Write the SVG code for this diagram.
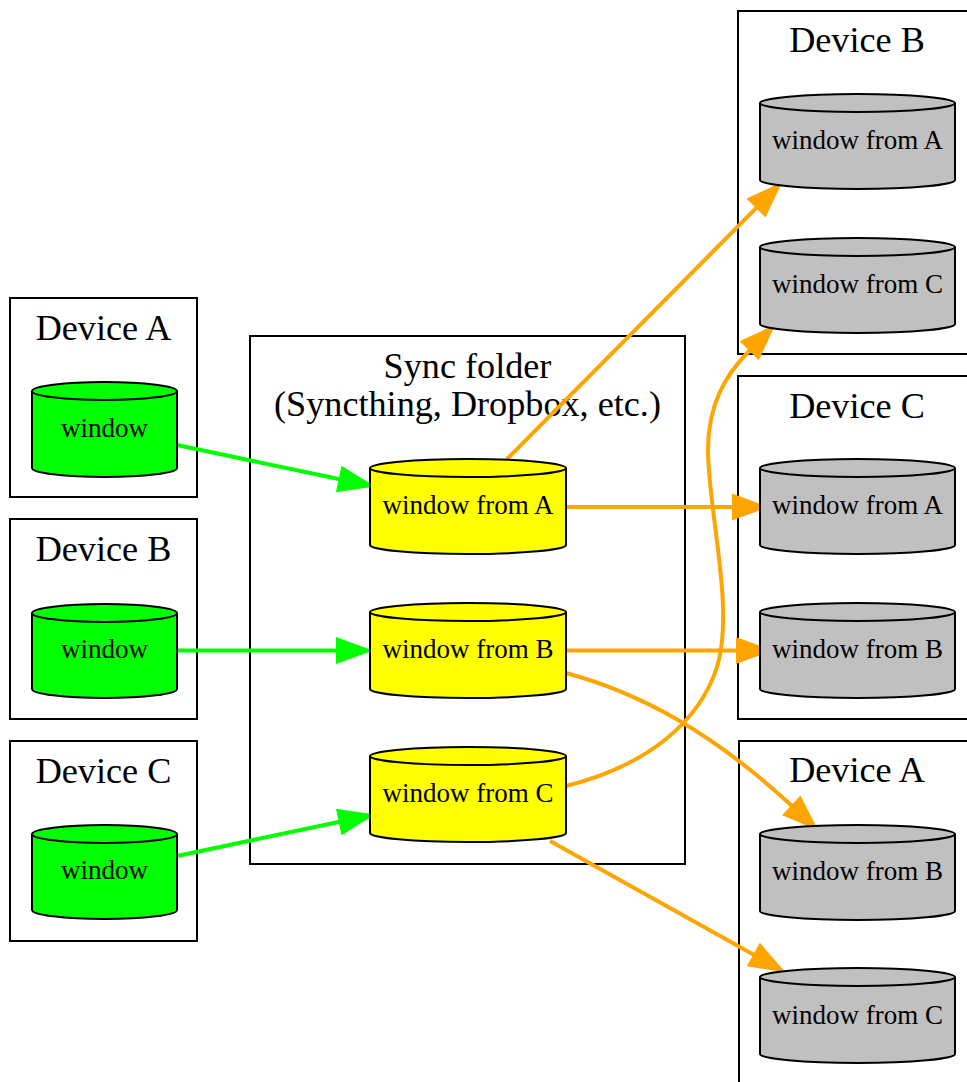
<svg xmlns="http://www.w3.org/2000/svg" width="967" height="1082" viewBox="0 0 967 1082">
<style>
.bg{fill:#ffffff}
.cluster{fill:none;stroke:#000;stroke-width:2}
.clabel{font-family:"Liberation Serif","Times New Roman",serif;font-size:36.2px;fill:#000;text-anchor:middle}
.nlabel{font-family:"Liberation Serif","Times New Roman",serif;font-size:27px;fill:#000;text-anchor:middle}
.cyl{stroke:#000;stroke-width:2}
.rim{fill:none;stroke:#000;stroke-width:2}
.green{fill:#00ff00}
.yellow{fill:#ffff00}
.gray{fill:#c0c0c0}
.eg{fill:none;stroke:#00ff00;stroke-width:4}
.eo{fill:none;stroke:#ffa500;stroke-width:4}
</style>
<defs>
<marker id="ag" markerUnits="userSpaceOnUse" markerWidth="36" markerHeight="26" refX="0" refY="12" orient="auto" overflow="visible"><path d="M0,0 L33,12 L0,24 Z" fill="#00ff00" stroke="#00ff00" stroke-width="2"/></marker>
<marker id="ao" markerUnits="userSpaceOnUse" markerWidth="36" markerHeight="26" refX="0" refY="12" orient="auto" overflow="visible"><path d="M0,0 L33,12 L0,24 Z" fill="#ffa500" stroke="#ffa500" stroke-width="2"/></marker>
</defs>
<rect class="bg" x="0" y="0" width="967" height="1082"/>

<g id="cluster_devA_src">
<rect class="cluster" x="10" y="298" width="187" height="199"/>
<text class="clabel" x="103.5" y="340">Device A</text>
</g>
<g id="cluster_devB_src">
<rect class="cluster" x="10" y="519" width="187" height="200"/>
<text class="clabel" x="103.5" y="561">Device B</text>
</g>
<g id="cluster_devC_src">
<rect class="cluster" x="10" y="741" width="187" height="200"/>
<text class="clabel" x="103.5" y="783">Device C</text>
</g>
<g id="cluster_sync">
<rect class="cluster" x="250" y="336" width="435" height="528"/>
<text class="clabel" x="467.5" y="378">Sync folder</text>
<text class="clabel" x="467.5" y="416">(Syncthing, Dropbox, etc.)</text>
</g>
<g id="cluster_devB_dst">
<rect class="cluster" x="738" y="11" width="240" height="343"/>
<text class="clabel" x="857" y="52">Device B</text>
</g>
<g id="cluster_devC_dst">
<rect class="cluster" x="738" y="376" width="240" height="343"/>
<text class="clabel" x="857" y="418">Device C</text>
</g>
<g id="cluster_devA_dst">
<rect class="cluster" x="739" y="741" width="240" height="360"/>
<text class="clabel" x="857" y="782">Device A</text>
</g>

<g id="edges">
<path class="eg" d="M177,445 L339.7,479.2" marker-end="url(#ag)"/>
<path class="eg" d="M177,650.5 L337,650.5" marker-end="url(#ag)"/>
<path class="eg" d="M177,856 L339.7,821.8" marker-end="url(#ag)"/>
<path class="eo" d="M507,459 L756.8,207.4" marker-end="url(#ao)"/>
<path class="eo" d="M566,507 L733,507" marker-end="url(#ao)"/>
<path class="eo" d="M566,650.5 L737,650.5" marker-end="url(#ao)"/>
<path class="eo" d="M566,673 C640,693 712,732 792,806" marker-end="url(#ao)"/>
<path class="eo" d="M566,786 C650,765 700,720 717,667 C735,610 708,510 708,450 C708,405 725,375 750,350" marker-end="url(#ao)"/>
<path class="eo" d="M550,841 L754.2,954.9" marker-end="url(#ao)"/>
</g>

<g id="srcA_window">
<path class="cyl green" d="M32,391 A72.5,9 0 0 1 177,391 L177,468 A72.5,9 0 0 1 32,468 Z"/>
<path class="rim" d="M32,391 A72.5,9 0 0 0 177,391"/>
<text class="nlabel" x="104.5" y="436.5">window</text>
</g>
<g id="srcB_window">
<path class="cyl green" d="M32,613 A72.5,9 0 0 1 177,613 L177,689 A72.5,9 0 0 1 32,689 Z"/>
<path class="rim" d="M32,613 A72.5,9 0 0 0 177,613"/>
<text class="nlabel" x="104.5" y="658">window</text>
</g>
<g id="srcC_window">
<path class="cyl green" d="M32,834 A72.5,9 0 0 1 177,834 L177,910 A72.5,9 0 0 1 32,910 Z"/>
<path class="rim" d="M32,834 A72.5,9 0 0 0 177,834"/>
<text class="nlabel" x="104.5" y="879">window</text>
</g>

<g id="sync_fromA">
<path class="cyl yellow" d="M370,468 A98,9 0 0 1 566,468 L566,545 A98,9 0 0 1 370,545 Z"/>
<path class="rim" d="M370,468 A98,9 0 0 0 566,468"/>
<text class="nlabel" x="468" y="514">window from A</text>
</g>
<g id="sync_fromB">
<path class="cyl yellow" d="M370,612 A98,9 0 0 1 566,612 L566,689 A98,9 0 0 1 370,689 Z"/>
<path class="rim" d="M370,612 A98,9 0 0 0 566,612"/>
<text class="nlabel" x="468" y="658">window from B</text>
</g>
<g id="sync_fromC">
<path class="cyl yellow" d="M370,756 A98,9 0 0 1 566,756 L566,833 A98,9 0 0 1 370,833 Z"/>
<path class="rim" d="M370,756 A98,9 0 0 0 566,756"/>
<text class="nlabel" x="468" y="802">window from C</text>
</g>

<g id="B_fromA">
<path class="cyl gray" d="M760,103 A97.5,9 0 0 1 955,103 L955,180 A97.5,9 0 0 1 760,180 Z"/>
<path class="rim" d="M760,103 A97.5,9 0 0 0 955,103"/>
<text class="nlabel" x="857.5" y="149">window from A</text>
</g>
<g id="B_fromC">
<path class="cyl gray" d="M760,247 A97.5,9 0 0 1 955,247 L955,324 A97.5,9 0 0 1 760,324 Z"/>
<path class="rim" d="M760,247 A97.5,9 0 0 0 955,247"/>
<text class="nlabel" x="857.5" y="293">window from C</text>
</g>
<g id="C_fromA">
<path class="cyl gray" d="M760,468 A97.5,9 0 0 1 955,468 L955,545 A97.5,9 0 0 1 760,545 Z"/>
<path class="rim" d="M760,468 A97.5,9 0 0 0 955,468"/>
<text class="nlabel" x="857.5" y="514">window from A</text>
</g>
<g id="C_fromB">
<path class="cyl gray" d="M760,612 A97.5,9 0 0 1 955,612 L955,689 A97.5,9 0 0 1 760,689 Z"/>
<path class="rim" d="M760,612 A97.5,9 0 0 0 955,612"/>
<text class="nlabel" x="857.5" y="658">window from B</text>
</g>
<g id="A_fromB">
<path class="cyl gray" d="M760,834 A97.5,9 0 0 1 955,834 L955,911 A97.5,9 0 0 1 760,911 Z"/>
<path class="rim" d="M760,834 A97.5,9 0 0 0 955,834"/>
<text class="nlabel" x="857.5" y="879.5">window from B</text>
</g>
<g id="A_fromC">
<path class="cyl gray" d="M760,977 A97.5,9 0 0 1 955,977 L955,1054 A97.5,9 0 0 1 760,1054 Z"/>
<path class="rim" d="M760,977 A97.5,9 0 0 0 955,977"/>
<text class="nlabel" x="857.5" y="1023.5">window from C</text>
</g>
</svg>
